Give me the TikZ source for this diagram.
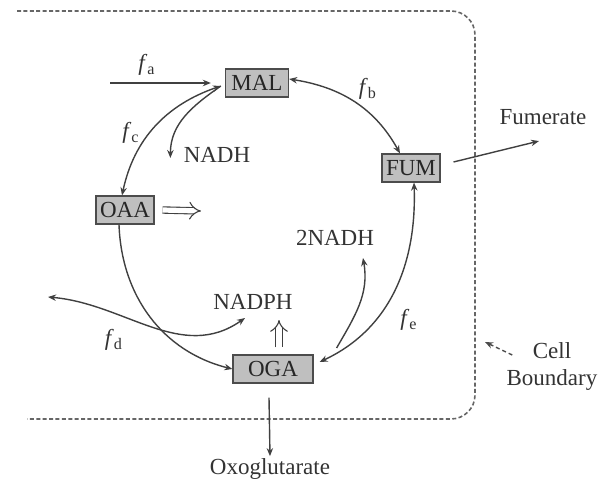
\documentclass[tikz,border=0pt]{standalone}
\usepackage{fontspec}
\setmainfont{Liberation Serif}
\usetikzlibrary{positioning,arrows.meta,calc}

\newcommand{\flx}[1]{\textit{f}\textsubscript{#1}}

\begin{document}
\begin{tikzpicture}[
  x=0.5pt, y=0.5pt,
  >={Stealth[length=4pt,width=3.2pt]},
  font=\fontsize{11.5}{13.5}\selectfont,
  met/.style={draw=black!70, fill=black!25, line width=0.6pt, minimum height=14pt, inner xsep=2pt, inner ysep=1.5pt, text=black!85},
  lbl/.style={text=black!80, inner sep=1pt},
  flow/.style={draw=black!75, line width=0.7pt},
  dbl/.style={draw=black!75, double, double distance=2.6pt, line width=0.55pt, -{Implies[length=5pt]}},
  wall/.style={draw=black!60, line width=0.8pt, dash pattern=on 2pt off 1.2pt, rounded corners=12pt},
]
\useasboundingbox (0,0) rectangle (612,-480);

% ============================== metabolites ==============================
\node[met, inner xsep=3pt] (MAL) at (257,-83) {MAL};
\node[met] (FUM) at (411,-168) {FUM};
\node[met] (OAA) at (125,-210) {OAA};
\node[met, minimum width=40pt] (OGA) at (273,-369) {OGA};

% ============================== cofactors & exports ==============================
\node[lbl] (NADH)  at (217,-155) {NADH};
\node[lbl] (NADH2) at (335,-238) {2NADH};
\node[lbl] (NADPH) at (253,-302) {NADPH};
\node[lbl] (Fum)   at (543,-117) {Fumerate};
\node[lbl] (Oxo)   at (270,-469) {Oxoglutarate};
\node[lbl, align=center] (Cell) at (552,-367) {Cell\\Boundary};

% flux labels
\node[lbl] (fa) at (147,-65)  {\flx{a}};
\node[lbl] (fb) at (368,-89)  {\flx{b}};
\node[lbl] (fc) at (131,-133) {\flx{c}};
\node[lbl] (fd) at (114,-340) {\flx{d}};
\node[lbl] (fe) at (409,-320) {\flx{e}};

% ============================== cell boundary ==============================
\draw[wall] (17,-11) -- (475,-11) -- (475,-419) -- (27,-419);
\coordinate (wallpt) at (485,-342);
\draw[draw=black!70, line width=0.7pt, dash pattern=on 2pt off 1.5pt, ->] ([shift={(4pt,6pt)}]Cell.west) -- (wallpt);

% ============================== cycle ==============================
\coordinate (fa0) at (110,-83);
\coordinate (malin) at ([shift={(-2pt,-1.5pt)}]MAL.west);
\draw[flow,->] (fa0) -- (MAL.west) [shorten >=7pt];
\draw[flow,<->] (malin) to[out=199,in=78] ([xshift=-1.5pt]OAA.north);
\draw[flow,->] (malin) to[out=215,in=90] ([xshift=-5.5pt,yshift=-1.5pt]NADH.west);
\draw[flow,<->] ([yshift=2pt]MAL.east) to[out=-9,in=119] ([xshift=-5.5pt]FUM.north);
\draw[flow,->] ([xshift=-3pt]OAA.south) to[out=-88,in=166] (OGA.west);
\draw[flow,<->] ([xshift=1.5pt]FUM.south) to[out=-88,in=25] ([shift={(3pt,3.5pt)}]OGA.east);
\coordinate (oge) at ([shift={(11.5pt,10.5pt)}]OGA.east);
\draw[flow,->] (oge) to[out=60,in=-80] ([shift={(14pt,-5pt)}]NADH2.south);

% side branch to the left and NADPH
\coordinate (fdL) at (48,-297);
\draw[flow,<->] (fdL) to[out=-5,in=215] ([shift={(-4pt,-3pt)}]NADPH.south);
\draw[dbl] ([shift={(3pt,3.5pt)}]OGA.north) -- ($(OGA.north |- NADPH.south)+(3pt,-4pt)$);
\coordinate (oaaout) at (201,-211);
\draw[dbl] ([xshift=4pt]OAA.east) -- (oaaout);

% ============================== exports ==============================
\draw[flow,->] ([shift={(6.5pt,3pt)}]FUM.east) -- ([shift={(-2pt,-7pt)}]Fum.south);
\draw[flow,->] ([shift={(-2pt,-7pt)}]OGA.south) -- (Oxo.north);
\end{tikzpicture}
\end{document}
